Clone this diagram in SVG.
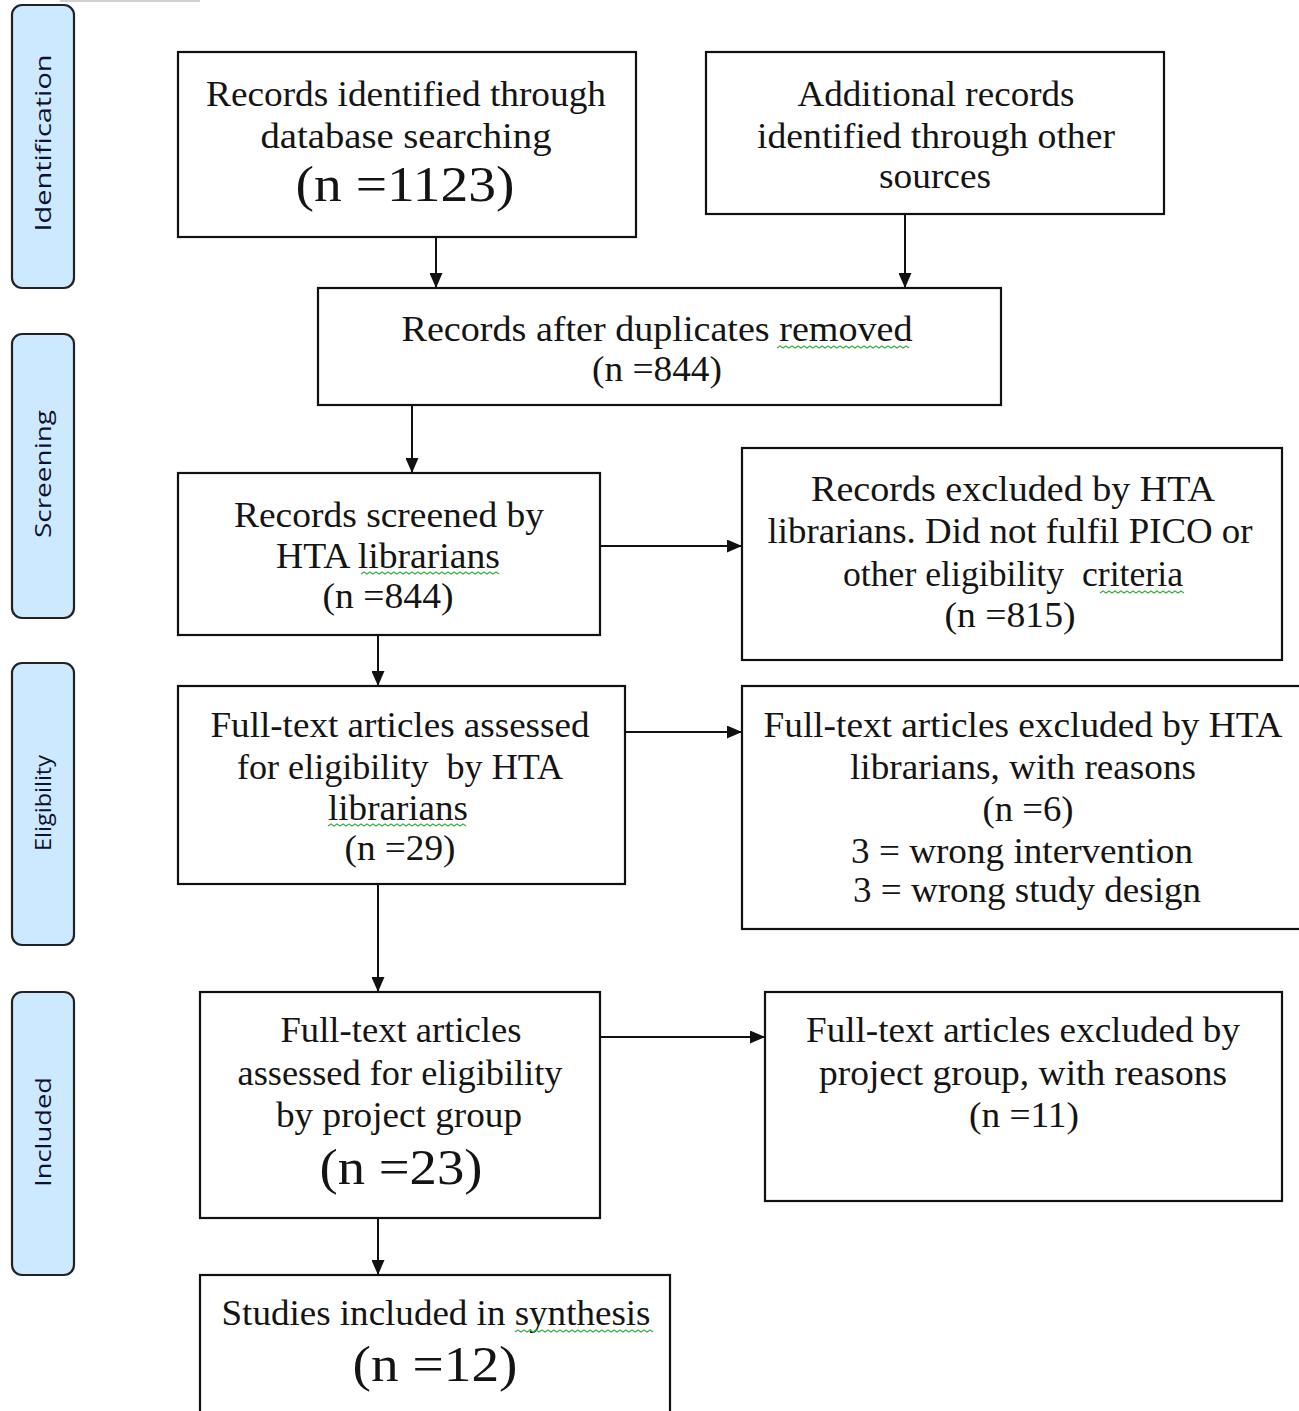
<svg xmlns="http://www.w3.org/2000/svg" width="1299" height="1411" viewBox="0 0 1299 1411">
<defs>
<style>
.box{fill:#fff;stroke:#111;stroke-width:2.2}
.side{fill:#cce9ff;stroke:#222;stroke-width:2.2}
.t{font-family:"Liberation Serif","Times New Roman",serif;font-size:35px;fill:#141414;text-anchor:middle}
.big{font-size:50px}
.s{font-family:"Open Sans","DejaVu Sans",sans-serif;font-size:22px;fill:#101030;text-anchor:middle}
.c{stroke:#111;stroke-width:2;fill:none}
.w{stroke:#3cb043;stroke-width:1.3;fill:none}
</style>
<marker id="a" viewBox="0 0 15 13" refX="15" refY="6.5" markerWidth="15" markerHeight="13" markerUnits="userSpaceOnUse" orient="auto">
<path d="M0,0 L15,6.5 L0,13 z" fill="#111"/>
</marker>
</defs>
<rect width="1299" height="1411" fill="#fff"/>
<rect x="60" y="0" width="140" height="2" fill="#d0d0d0"/>

<g id="phase-identification">
<rect class="side" x="12" y="5" width="62" height="283" rx="10"/>
<text class="s" transform="translate(51,143) rotate(-90)" textLength="177" lengthAdjust="spacingAndGlyphs">Identification</text>
</g>
<g id="phase-screening">
<rect class="side" x="12" y="334" width="62" height="284" rx="10"/>
<text class="s" transform="translate(51,474) rotate(-90)" textLength="128" lengthAdjust="spacingAndGlyphs">Screening</text>
</g>
<g id="phase-eligibility">
<rect class="side" x="12" y="663" width="62" height="282" rx="10"/>
<text class="s" transform="translate(51,803) rotate(-90)" textLength="96" lengthAdjust="spacingAndGlyphs">Eligibility</text>
</g>
<g id="phase-included">
<rect class="side" x="12" y="992" width="62" height="283" rx="10"/>
<text class="s" transform="translate(51,1132) rotate(-90)" textLength="110" lengthAdjust="spacingAndGlyphs">Included</text>
</g>

<g id="connectors">
<line class="c" x1="436" y1="237" x2="436" y2="288" marker-end="url(#a)"/>
<line class="c" x1="905" y1="214" x2="905" y2="288" marker-end="url(#a)"/>
<line class="c" x1="412" y1="405" x2="412" y2="473" marker-end="url(#a)"/>
<line class="c" x1="600" y1="546" x2="742" y2="546" marker-end="url(#a)"/>
<line class="c" x1="378" y1="635" x2="378" y2="686" marker-end="url(#a)"/>
<line class="c" x1="625" y1="732" x2="742" y2="732" marker-end="url(#a)"/>
<line class="c" x1="378" y1="884" x2="378" y2="992" marker-end="url(#a)"/>
<line class="c" x1="600" y1="1037" x2="765" y2="1037" marker-end="url(#a)"/>
<line class="c" x1="378" y1="1218" x2="378" y2="1275" marker-end="url(#a)"/>
</g>

<g id="n1">
<rect class="box" x="178" y="52" width="458" height="185"/>
<text class="t" x="406" y="106" textLength="400" lengthAdjust="spacingAndGlyphs">Records identified through</text>
<text class="t" x="406" y="148" textLength="291" lengthAdjust="spacingAndGlyphs">database searching</text>
<text class="t big" x="405" y="201" textLength="219" lengthAdjust="spacingAndGlyphs">(n =1123)</text>
</g>
<g id="n2">
<rect class="box" x="706" y="52" width="458" height="162"/>
<text class="t" x="936" y="106" textLength="277" lengthAdjust="spacingAndGlyphs">Additional records</text>
<text class="t" x="936" y="148" textLength="358" lengthAdjust="spacingAndGlyphs">identified through other</text>
<text class="t" x="935" y="188" textLength="112" lengthAdjust="spacingAndGlyphs">sources</text>
</g>
<g id="n3">
<rect class="box" x="318" y="288" width="683" height="117"/>
<text class="t" x="657" y="341" textLength="511" lengthAdjust="spacingAndGlyphs">Records after duplicates removed</text>
<text class="t" x="657" y="381" textLength="130" lengthAdjust="spacingAndGlyphs">(n =844)</text>
<path class="w" d="M777,348 l3,-2 l3,2 l3,-2 l3,2 l3,-2 l3,2 l3,-2 l3,2 l3,-2 l3,2 l3,-2 l3,2 l3,-2 l3,2 l3,-2 l3,2 l3,-2 l3,2 l3,-2 l3,2 l3,-2 l3,2 l3,-2 l3,2 l3,-2 l3,2 l3,-2 l3,2 l3,-2 l3,2 l3,-2 l3,2 l3,-2 l3,2 l3,-2 l3,2 l3,-2 l3,2 l3,-2 l3,2 l3,-2 l3,2 l3,-2 l3,2"/>
</g>
<g id="n4">
<rect class="box" x="178" y="473" width="422" height="162"/>
<text class="t" x="389" y="527" textLength="310" lengthAdjust="spacingAndGlyphs">Records screened by</text>
<text class="t" x="388" y="568" textLength="224" lengthAdjust="spacingAndGlyphs">HTA librarians</text>
<text class="t" x="388" y="608" textLength="131" lengthAdjust="spacingAndGlyphs">(n =844)</text>
<path class="w" d="M361,574 l3,-2 l3,2 l3,-2 l3,2 l3,-2 l3,2 l3,-2 l3,2 l3,-2 l3,2 l3,-2 l3,2 l3,-2 l3,2 l3,-2 l3,2 l3,-2 l3,2 l3,-2 l3,2 l3,-2 l3,2 l3,-2 l3,2 l3,-2 l3,2 l3,-2 l3,2 l3,-2 l3,2 l3,-2 l3,2 l3,-2 l3,2 l3,-2 l3,2 l3,-2 l3,2 l3,-2 l3,2 l3,-2 l3,2 l3,-2 l3,2 l3,-2 l3,2"/>
</g>
<g id="n5">
<rect class="box" x="742" y="448" width="540" height="212"/>
<text class="t" x="1013" y="501" textLength="404" lengthAdjust="spacingAndGlyphs">Records excluded by HTA</text>
<text class="t" x="1010" y="543" textLength="485" lengthAdjust="spacingAndGlyphs">librarians. Did not fulfil PICO or</text>
<text class="t" x="1013" y="586" textLength="340" lengthAdjust="spacingAndGlyphs" xml:space="preserve">other eligibility  criteria</text>
<text class="t" x="1010" y="627" textLength="131" lengthAdjust="spacingAndGlyphs">(n =815)</text>
<path class="w" d="M1100,593 l3,-2 l3,2 l3,-2 l3,2 l3,-2 l3,2 l3,-2 l3,2 l3,-2 l3,2 l3,-2 l3,2 l3,-2 l3,2 l3,-2 l3,2 l3,-2 l3,2 l3,-2 l3,2 l3,-2 l3,2 l3,-2 l3,2 l3,-2 l3,2 l3,-2 l3,2"/>
</g>
<g id="n6">
<rect class="box" x="178" y="686" width="447" height="198"/>
<text class="t" x="400" y="737" textLength="379" lengthAdjust="spacingAndGlyphs">Full-text articles assessed</text>
<text class="t" x="400" y="779" textLength="326" lengthAdjust="spacingAndGlyphs" xml:space="preserve">for eligibility  by HTA</text>
<text class="t" x="398" y="820" textLength="140" lengthAdjust="spacingAndGlyphs">librarians</text>
<text class="t" x="400" y="860" textLength="111" lengthAdjust="spacingAndGlyphs">(n =29)</text>
<path class="w" d="M328,826 l3,-2 l3,2 l3,-2 l3,2 l3,-2 l3,2 l3,-2 l3,2 l3,-2 l3,2 l3,-2 l3,2 l3,-2 l3,2 l3,-2 l3,2 l3,-2 l3,2 l3,-2 l3,2 l3,-2 l3,2 l3,-2 l3,2 l3,-2 l3,2 l3,-2 l3,2 l3,-2 l3,2 l3,-2 l3,2 l3,-2 l3,2 l3,-2 l3,2 l3,-2 l3,2 l3,-2 l3,2 l3,-2 l3,2 l3,-2 l3,2 l3,-2 l3,2"/>
</g>
<g id="n7">
<rect class="box" x="742" y="686" width="562" height="243"/>
<text class="t" x="1023" y="737" textLength="519" lengthAdjust="spacingAndGlyphs">Full-text articles excluded by HTA</text>
<text class="t" x="1023" y="779" textLength="346" lengthAdjust="spacingAndGlyphs">librarians, with reasons</text>
<text class="t" x="1028" y="821" textLength="91" lengthAdjust="spacingAndGlyphs">(n =6)</text>
<text class="t" x="1022" y="863" textLength="342" lengthAdjust="spacingAndGlyphs">3 = wrong intervention</text>
<text class="t" x="1027" y="902" textLength="348" lengthAdjust="spacingAndGlyphs">3 = wrong study design</text>
</g>
<g id="n8">
<rect class="box" x="200" y="992" width="400" height="226"/>
<text class="t" x="401" y="1042" textLength="241" lengthAdjust="spacingAndGlyphs">Full-text articles</text>
<text class="t" x="400" y="1085" textLength="325" lengthAdjust="spacingAndGlyphs">assessed for eligibility</text>
<text class="t" x="399" y="1127" textLength="246" lengthAdjust="spacingAndGlyphs">by project group</text>
<text class="t big" x="401" y="1184" textLength="163" lengthAdjust="spacingAndGlyphs">(n =23)</text>
</g>
<g id="n9">
<rect class="box" x="765" y="992" width="517" height="209"/>
<text class="t" x="1023" y="1042" textLength="434" lengthAdjust="spacingAndGlyphs">Full-text articles excluded by</text>
<text class="t" x="1023" y="1085" textLength="408" lengthAdjust="spacingAndGlyphs">project group, with reasons</text>
<text class="t" x="1024" y="1127" textLength="110" lengthAdjust="spacingAndGlyphs">(n =11)</text>
</g>
<g id="n10">
<rect class="box" x="200" y="1275" width="470" height="150"/>
<text class="t" x="436" y="1325" textLength="429" lengthAdjust="spacingAndGlyphs">Studies included in synthesis</text>
<text class="t big" x="435" y="1381" textLength="165" lengthAdjust="spacingAndGlyphs">(n =12)</text>
<path class="w" d="M515,1332 l3,-2 l3,2 l3,-2 l3,2 l3,-2 l3,2 l3,-2 l3,2 l3,-2 l3,2 l3,-2 l3,2 l3,-2 l3,2 l3,-2 l3,2 l3,-2 l3,2 l3,-2 l3,2 l3,-2 l3,2 l3,-2 l3,2 l3,-2 l3,2 l3,-2 l3,2 l3,-2 l3,2 l3,-2 l3,2 l3,-2 l3,2 l3,-2 l3,2 l3,-2 l3,2 l3,-2 l3,2 l3,-2 l3,2 l3,-2 l3,2 l3,-2 l3,2"/>
</g>
</svg>
